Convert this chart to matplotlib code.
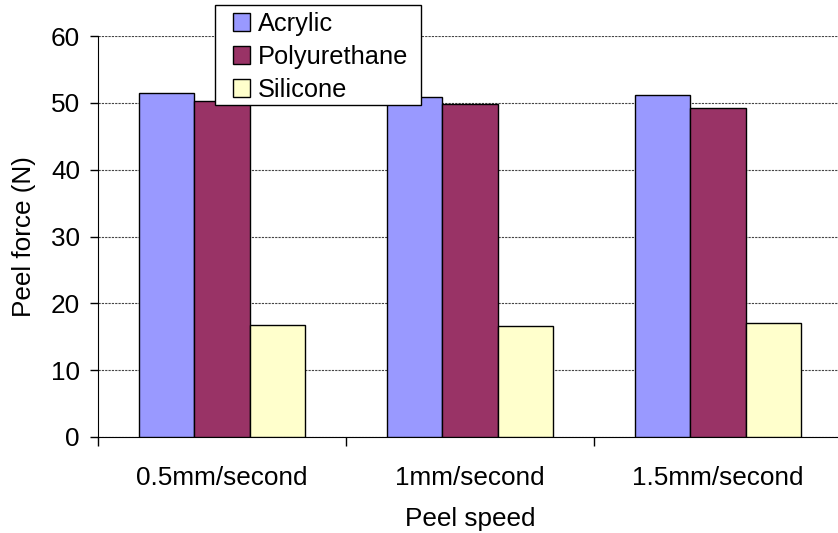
import numpy as np
import matplotlib.pyplot as plt
from matplotlib.patches import Rectangle

plt.rcParams['font.family'] = ['Liberation Sans', 'DejaVu Sans']

speeds = ['0.5mm/second', '1mm/second', '1.5mm/second']
materials = ['Acrylic', 'Polyurethane', 'Silicone']
acrylic = [51.5, 50.9, 51.2]
polyurethane = [50.2, 49.8, 49.2]
silicone = [16.8, 16.6, 17.0]
colors = ['#9999FF', '#993366', '#FFFFCC']

fs = 18.8
W, H = 838, 533

fig = plt.figure(figsize=(W / 100, H / 100), dpi=100)
ax = fig.add_axes([98 / W, 96 / H, 744 / W, 401 / H])

x = np.arange(len(speeds)) + 0.5
w = 0.222
for i, (vals, name) in enumerate(zip([acrylic, polyurethane, silicone], materials)):
    ax.bar(x + (i - 1) * w, vals, w, color=colors[i], edgecolor='black',
           linewidth=1, label=name, zorder=3)

ax.set_xlim(0, 3)
ax.set_ylim(0, 60)
ax.set_yticks(range(0, 61, 10))
ax.set_xticks([0, 1, 2, 3])
ax.set_xticklabels([])
ax.set_xticks(x, minor=True)
ax.set_xticklabels(speeds, minor=True)
ax.tick_params(axis='x', which='minor', length=0, pad=21, labelsize=fs)
ax.tick_params(axis='x', which='major', length=6.5, width=1)
ax.tick_params(axis='y', length=6, width=1, labelsize=fs, pad=7)

ax.yaxis.grid(True, linestyle=(0, (2, 1)), color='#444444', linewidth=0.8, zorder=0)
ax.spines['top'].set_visible(False)
ax.spines['right'].set_visible(False)

ax.set_xlabel('Peel speed', fontsize=fs, labelpad=12)
ax.set_ylabel('Peel force (N)', fontsize=fs, labelpad=11)

# legend frame drawn as its own box so the inner spacing can be set freely
frame = Rectangle((215 / W, 1 - 105 / H), 206 / W, 100 / H, transform=fig.transFigure,
                  facecolor='white', edgecolor='black', linewidth=1, zorder=4)
fig.patches.append(frame)

leg = fig.legend(loc='upper left', bbox_to_anchor=(233 / W, 1 - 12 / H),
                 fontsize=18.3, frameon=False, borderaxespad=0, borderpad=0,
                 handlelength=0.67, handleheight=0.67, handletextpad=0.3,
                 labelspacing=0.35)
leg.set_zorder(5)

fig.savefig('out.png', dpi=100)
